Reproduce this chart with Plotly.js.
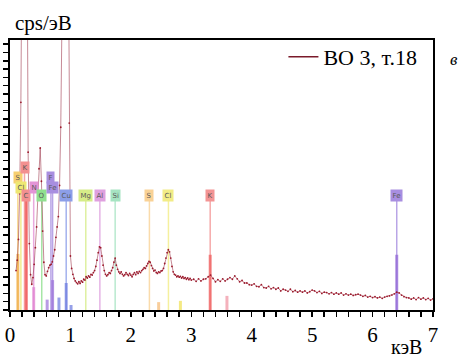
<!DOCTYPE html>
<html>
<head>
<meta charset="utf-8">
<script src="https://cdn.plot.ly/plotly-3.0.1.min.js"></script>
<style>
html,body{margin:0;padding:0;background:#fff;}
#chart{width:461px;height:361px;}
</style>
</head>
<body>
<div id="chart"></div>
<script>
// Spectrum: energy (keV) and intensity (cps/eV, arbitrary scale)
const energyLow = [0.10,0.12,0.14,0.16,0.18,0.20,0.22,0.24,0.26,0.28,0.30,0.32,0.34,0.36,0.38,0.40,0.42,0.44,0.46,0.48,0.50,0.52,0.54,0.56,0.58,0.60,0.62,0.64,0.66,0.68,0.70,0.72,0.74,0.76,0.78,0.80,0.82,0.84,0.86,0.88,0.90,0.92,0.94,0.96,0.98,1.00,1.02,1.04,1.06,1.08];
const cpsLow = [0.95,1.2,1.7,2.8,5.0,9.5,15,18,16,10,3.8,1.6,0.85,0.62,0.78,1.1,1.5,2.0,2.7,3.4,3.9,3.1,1.9,1.15,0.85,0.82,0.93,1.02,1.08,1.1,1.16,1.3,1.45,1.75,2.0,2.25,3.0,4.4,7.0,11,16,19,16,10,4.5,1.3,1.0,0.86,0.76,0.7];
const energyMid = [1.10,1.12,1.14,1.16,1.18,1.20,1.22,1.24,1.26,1.28,1.30,1.32,1.34,1.36,1.38,1.40,1.42,1.44,1.46,1.48,1.50,1.52,1.54,1.56,1.58,1.60,1.62,1.64,1.66,1.68,1.70,1.72,1.74,1.76,1.78,1.80,1.82,1.84,1.86,1.88,1.90,1.92,1.94,1.96,1.98,2.00,2.02,2.04,2.06,2.08,2.10,2.12,2.14,2.16,2.18,2.20,2.22,2.24,2.26,2.28,2.30,2.32,2.34,2.36,2.38,2.40,2.42,2.44,2.46,2.48,2.50,2.52,2.54,2.56,2.58,2.60,2.62,2.64,2.66,2.68,2.70,2.72,2.74,2.76,2.78,2.80,2.82,2.84,2.86,2.88,2.90,2.92,2.94,2.96,2.98,3.00];
const cpsMid = [0.66,0.63,0.68,0.64,0.7,0.67,0.74,0.72,0.8,0.77,0.82,0.79,0.86,0.84,0.9,0.95,1.05,1.2,1.38,1.52,1.5,1.3,1.08,0.95,0.86,0.82,0.85,0.9,0.88,0.95,1.02,1.15,1.25,1.08,0.98,0.92,0.88,0.92,0.86,0.82,0.85,0.9,0.86,0.83,0.88,0.84,0.8,0.86,0.9,0.85,0.92,0.88,0.93,0.9,0.95,0.98,1.02,1.0,1.06,1.12,1.17,1.15,1.07,1.0,0.94,0.96,0.9,0.88,0.92,0.9,0.94,0.95,1.0,1.12,1.25,1.38,1.45,1.4,1.25,1.05,0.92,0.86,0.84,0.8,0.82,0.79,0.81,0.77,0.8,0.76,0.78,0.74,0.77,0.73,0.76,0.72];
const energyHigh = [3.04,3.08,3.12,3.16,3.20,3.24,3.28,3.32,3.36,3.40,3.44,3.48,3.52,3.56,3.60,3.64,3.68,3.72,3.76,3.80,3.84,3.88,3.92,3.96,4.00,4.04,4.08,4.12,4.16,4.20,4.24,4.28,4.32,4.36,4.40,4.44,4.48,4.52,4.56,4.60,4.64,4.68,4.72,4.76,4.80,4.84,4.88,4.92,4.96,5.00,5.04,5.08,5.12,5.16,5.20,5.24,5.28,5.32,5.36,5.40,5.44,5.48,5.52,5.56,5.60,5.64,5.68,5.72,5.76,5.80,5.84,5.88,5.92,5.96,6.00,6.04,6.08,6.12,6.16,6.20,6.24,6.28,6.32,6.36,6.40,6.44,6.48,6.52,6.56,6.60,6.64,6.68,6.72,6.76,6.80,6.84,6.88,6.92,6.96,7.00];
const cpsHigh = [0.74,0.69,0.75,0.7,0.74,0.75,0.8,0.84,0.76,0.68,0.73,0.69,0.75,0.7,0.74,0.78,0.74,0.82,0.75,0.68,0.71,0.65,0.65,0.61,0.6,0.63,0.57,0.56,0.61,0.54,0.53,0.57,0.51,0.54,0.5,0.53,0.46,0.5,0.48,0.45,0.5,0.44,0.47,0.43,0.46,0.43,0.46,0.41,0.44,0.48,0.46,0.42,0.45,0.4,0.43,0.42,0.39,0.42,0.38,0.41,0.38,0.41,0.36,0.39,0.36,0.38,0.35,0.37,0.38,0.36,0.33,0.35,0.31,0.33,0.3,0.32,0.29,0.31,0.28,0.31,0.33,0.34,0.36,0.39,0.43,0.41,0.36,0.32,0.3,0.29,0.26,0.29,0.25,0.3,0.26,0.29,0.25,0.28,0.24,0.27];

// Element line markers
const elemLabels = ['S','Cl','K','C','N','O','F','Fe','Cu','Mg','Al','Si','S','Cl','K','Fe'];
const elemKeV    = [0.13,0.18,0.24,0.27,0.392,0.525,0.677,0.705,0.93,1.254,1.487,1.74,2.307,2.622,3.313,6.40];
const elemLevel  = [3.2,2.96,3.42,2.75,2.96,2.75,3.2,2.96,2.75,2.75,2.75,2.75,2.75,2.75,2.75,2.75];
const elemColors = ['#f6cf70','#eee873','#f39090','#f39090','#e394d6','#90e090','#a88ee0','#a88ee0','#8c9ee8','#d6ec88','#dfa0df','#a6e4c2','#f9d296','#f2ec86','#f39494','#a88ee0'];

// Line-intensity bars at the bottom
const barKeV    = [0.13,0.27,0.392,0.615,0.705,0.81,0.93,1.01,2.46,2.82,3.313,3.59,6.40];
const barHeight = [1.35,2.7,0.55,0.25,0.72,0.3,0.65,0.12,0.19,0.22,1.33,0.34,1.33];
const barColors = ['#f0a840','#f05050','#e080d0','#9a70d8','#9a70d8','#6a78de','#6a78de','#6a78de','#f5b870','#f0e050','#f05858','#f090a0','#8e62d4'];

const serif = 'Liberation Serif, Times New Roman, serif';
const traces = [];

// element vertical lines
elemKeV.forEach((e, i) => {
  traces.push({x:[e,e], y:[0, elemLevel[i]], mode:'lines', type:'scatter',
    line:{color:elemColors[i], width:1.5}, opacity:0.8, showlegend:false, hoverinfo:'skip'});
});
// intensity bars
barKeV.forEach((e, i) => {
  traces.push({x:[e,e], y:[0, barHeight[i]], mode:'lines', type:'scatter',
    line:{color:barColors[i], width:3}, opacity:0.7, showlegend:false, hoverinfo:'skip'});
});

const allE = energyLow.concat(energyMid, energyHigh);
const allC = cpsLow.concat(cpsMid, cpsHigh);

traces.push({x:allE, y:allC, mode:'lines', type:'scatter',
  line:{color:'rgba(160,60,80,0.6)', width:1}, showlegend:false, hoverinfo:'skip'});
traces.push({x:allE, y:allC, mode:'markers', type:'scatter',
  marker:{color:'#9c1a2c', size:1.8}, showlegend:false, hoverinfo:'skip'});
traces.push({x:[null], y:[null], mode:'lines', type:'scatter', name:'ВО 3, т.18',
  line:{color:'#7a1a2a', width:1.5}, showlegend:true});

const annotations = elemLabels.map((t, i) => ({
  x: elemKeV[i], y: elemLevel[i], xref:'x', yref:'y', text:t, showarrow:false,
  font:{size:7, color:'#5a5a5a', family:'DejaVu Sans, sans-serif'},
  bgcolor: elemColors[i], borderpad:1.5, xanchor:'center', yanchor:'middle'
}));
annotations.push({xref:'paper', yref:'paper', x:0.007, y:1.063, xanchor:'left', yanchor:'middle',
  text:'cps/эВ', showarrow:false, font:{family:serif, size:21, color:'#000'}});
annotations.push({xref:'paper', yref:'paper', x:0.976, y:-0.183, xanchor:'right', yanchor:'bottom',
  text:'кэВ', showarrow:false, font:{family:serif, size:20, color:'#000'}, borderpad:0});
annotations.push({xref:'paper', yref:'paper', x:1.05, y:0.926, xanchor:'center', yanchor:'middle',
  text:'<i>в</i>', showarrow:false, font:{family:serif, size:17, color:'#000'}});

const layout = {
  width:461, height:361,
  margin:{l:10, r:28, t:40, b:51},
  paper_bgcolor:'#fff', plot_bgcolor:'#fff',
  showlegend:true,
  legend:{x:0.975, y:1.015, xanchor:'right', yanchor:'top', bgcolor:'rgba(0,0,0,0)',
    font:{family:serif, size:22, color:'#000'}},
  xaxis:{range:[0,7], dtick:1, tick0:0, ticks:'outside', ticklen:5, tickwidth:1.5, tickcolor:'#000',
    minor:{dtick:0.2, ticks:'outside', ticklen:5, tickwidth:1.5, tickcolor:'#000', showgrid:false},
    showline:true, linecolor:'#000', linewidth:1.8, mirror:true, showgrid:false, zeroline:false,
    tickfont:{family:serif, size:21, color:'#000'}},
  yaxis:{range:[0,6.5], dtick:1, tick0:0, ticks:'outside', ticklen:5, tickwidth:1.5, tickcolor:'#000',
    minor:{dtick:0.2, ticks:'outside', ticklen:5, tickwidth:1.5, tickcolor:'#000', showgrid:false},
    showline:true, linecolor:'#000', linewidth:1.8, mirror:true, showgrid:false, zeroline:false,
    showticklabels:false},
  annotations: annotations
};

Plotly.newPlot('chart', traces, layout, {displayModeBar:false, staticPlot:true});
</script>
</body>
</html>
